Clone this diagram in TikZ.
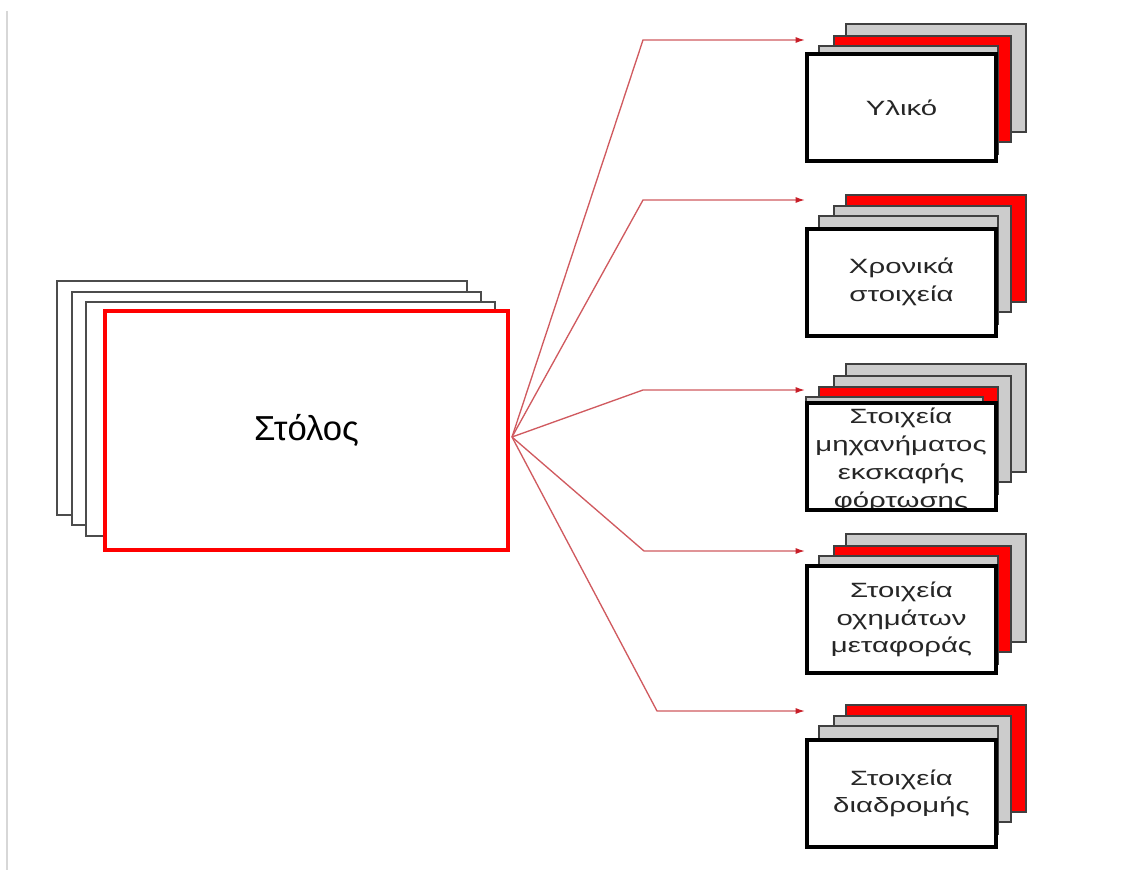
\documentclass[tikz,border=0pt]{standalone}
\usepackage{fontspec}
\setmainfont{Liberation Sans}
\newfontfamily\cardfont[FakeStretch=1.42]{Liberation Sans}
\usetikzlibrary{arrows.meta}
\definecolor{linkred}{RGB}{208,90,95}
\definecolor{tipred}{RGB}{200,30,40}
\definecolor{cardgray}{RGB}{204,204,204}
\definecolor{cardred}{RGB}{255,0,0}
\definecolor{edgegray}{RGB}{215,215,215}

\begin{document}
\begin{tikzpicture}[x=0.75pt,y=-0.75pt,
  sheet/.style={draw=black!70, line width=1.3pt, fill=white},
  graycard/.style={draw=black!75, line width=1pt, fill=cardgray},
  redcard/.style={draw=black!75, line width=1pt, fill=cardred},
  front/.style={draw=black, line width=3pt, fill=white, outer sep=0pt, inner sep=0pt,
    minimum width=141.75pt, minimum height=80.25pt,
    font=\cardfont\fontsize{15.5}{20.5}\selectfont, align=center, text=black!85},
  cardtext/.style={font=\cardfont\fontsize{15.5}{21}\selectfont, align=center, text=black!85},
  mainbox/.style={draw=cardred, line width=3pt, fill=white, outer sep=0pt,
    minimum width=302.25pt, minimum height=179.25pt, font=\fontsize{26}{30}\selectfont},
  link/.style={draw=linkred, line width=1pt, -{Latex[length=7pt,width=4.5pt,color=tipred]}},
]
\useasboundingbox (0,0) rectangle (1145,870);
\draw[edgegray, line width=1pt] (7,11) -- (7,870);

% main stack of sheets
\draw[sheet] (57,281) rectangle (467,515);
\draw[sheet] (72,292) rectangle (481,525);
\draw[sheet] (86,302) rectangle (495,536);
\node[mainbox] (fleet) at (306.5,430.5) {Στόλος};

% stack 1
\draw[graycard] (846,24) rectangle (1026,132);
\draw[redcard]  (834,36) rectangle (1011,142);
\draw[graycard] (819,46) rectangle (998,154);
\node[front] (n1) at (901.5,107.5) {Υλικό};

% stack 2
\draw[redcard]  (846,195) rectangle (1026,302);
\draw[graycard] (834,206) rectangle (1011,312);
\draw[graycard] (819,216) rectangle (998,324);
\node[front] (n2) at (901.5,282) {Χρονικά\\στοιχεία};

% stack 3
\draw[graycard] (846,364) rectangle (1026,472);
\draw[graycard] (834,376) rectangle (1011,482);
\draw[redcard]  (819,387) rectangle (998,494);
\draw[graycard] (806,397) rectangle (983,505);
\node[front, draw=none] (n3) at (901.5,456.5) {};
\begin{scope}
  \clip (n3.north west) rectangle (n3.south east);
  \node[cardtext] (n3text) at (901,460) {Στοιχεία\\μηχανήματος\\εκσκαφής\\φόρτωσης};
\end{scope}
\draw[black, line width=3pt] (n3.north west) rectangle (n3.south east);

% stack 4
\draw[graycard] (846,534) rectangle (1026,642);
\draw[redcard]  (834,546) rectangle (1011,652);
\draw[graycard] (819,556) rectangle (998,664);
\node[front] (n4) at (901.5,619.5) {Στοιχεία\\οχημάτων\\μεταφοράς};

% stack 5
\draw[redcard]  (846,705) rectangle (1026,812);
\draw[graycard] (834,716) rectangle (1011,822);
\draw[graycard] (819,726) rectangle (998,834);
\node[front] (n5) at (901.5,793.5) {Στοιχεία\\διαδρομής};

% connectors
\coordinate (hub) at (512,437);
\coordinate (e1) at (643,40);  \coordinate (t1) at (805,40);
\coordinate (e2) at (643,200); \coordinate (t2) at (805,200);
\coordinate (e3) at (643,390); \coordinate (t3) at (805,390);
\coordinate (e4) at (644,551); \coordinate (t4) at (805,551);
\coordinate (e5) at (657,711); \coordinate (t5) at (805,711);
\draw[link] (hub) -- (e1) -- (t1);
\draw[link] (hub) -- (e2) -- (t2);
\draw[link] (hub) -- (e3) -- (t3);
\draw[link] (hub) -- (e4) -- (t4);
\draw[link] (hub) -- (e5) -- (t5);
\end{tikzpicture}
\end{document}
